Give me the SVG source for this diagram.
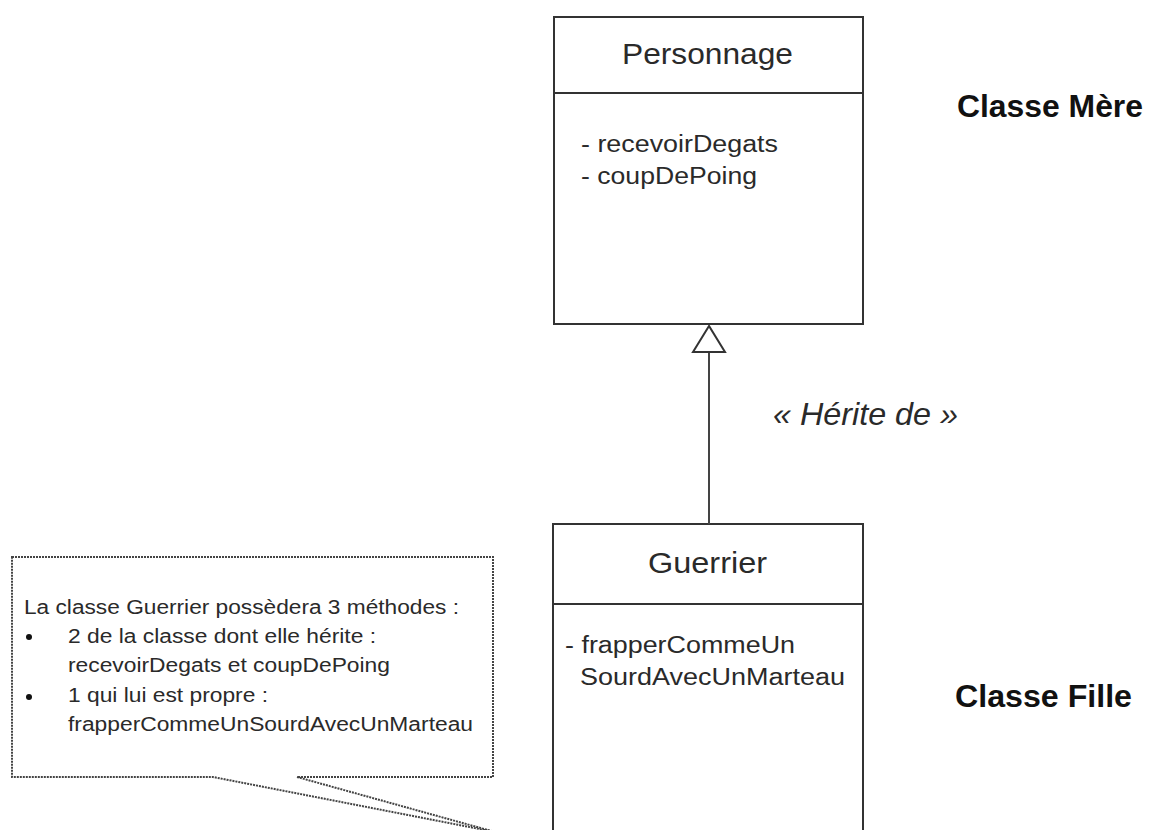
<svg xmlns="http://www.w3.org/2000/svg" width="1149" height="830" viewBox="0 0 1149 830">
<style>
.box{fill:#fff;stroke:#333;stroke-width:2}
.div{stroke:#333;stroke-width:2}
.t{font-family:"Liberation Sans",Arial,sans-serif;fill:#2a2a2a}
.title{font-size:30px}
.item{font-size:23px}
.note{font-size:20px}
.lbl{font-size:31px;font-weight:bold;fill:#111}
.it{font-size:32px;font-style:italic}
.callout{fill:#fff;stroke:#444;stroke-width:2;stroke-dasharray:2 1}
.conn{fill:none;stroke:#444;stroke-width:2}
</style>
<rect width="1149" height="830" fill="#fff"/>
<g id="personnage">
<rect class="box" x="554" y="17" width="309" height="307"/>
<line class="div" x1="554" y1="93" x2="863" y2="93"/>
<text class="t title" x="622" y="64" textLength="171" lengthAdjust="spacingAndGlyphs">Personnage</text>
<text class="t item" x="581" y="152" textLength="197" lengthAdjust="spacingAndGlyphs">- recevoirDegats</text>
<text class="t item" x="581" y="184" textLength="176" lengthAdjust="spacingAndGlyphs">- coupDePoing</text>
</g>
<g id="guerrier">
<rect class="box" x="553" y="524" width="310" height="330"/>
<line class="div" x1="553" y1="604" x2="863" y2="604"/>
<text class="t title" x="648" y="573" textLength="119" lengthAdjust="spacingAndGlyphs">Guerrier</text>
<text class="t item" x="565" y="653" textLength="230" lengthAdjust="spacingAndGlyphs">- frapperCommeUn</text>
<text class="t item" x="580" y="685" textLength="265" lengthAdjust="spacingAndGlyphs">SourdAvecUnMarteau</text>
</g>
<g id="connectors">
<line class="conn" x1="709" y1="524" x2="709" y2="352"/>
<polygon points="709,326 693,352 725,352" fill="#fff" stroke="#333" stroke-width="2"/>
</g>
<g id="label-heritage">
<text class="t it" x="773" y="425" textLength="185" lengthAdjust="spacingAndGlyphs">« Hérite de »</text>
</g>
<g id="label-mere">
<text class="t lbl" x="957" y="117" textLength="186" lengthAdjust="spacingAndGlyphs">Classe Mère</text>
</g>
<g id="label-fille">
<text class="t lbl" x="955" y="707" textLength="177" lengthAdjust="spacingAndGlyphs">Classe Fille</text>
</g>
<g id="note">
<path class="callout" d="M12,557 H493 V777 H297 L495,832 L213,777 H12 Z"/>
<text class="t note" x="24" y="614" textLength="435" lengthAdjust="spacingAndGlyphs">La classe Guerrier possèdera 3 méthodes :</text>
<circle cx="29" cy="637" r="3" fill="#111"/>
<text class="t note" x="68" y="643" textLength="308" lengthAdjust="spacingAndGlyphs">2 de la classe dont elle hérite :</text>
<text class="t note" x="68" y="672" textLength="322" lengthAdjust="spacingAndGlyphs">recevoirDegats et coupDePoing</text>
<circle cx="29" cy="697" r="3" fill="#111"/>
<text class="t note" x="68" y="702" textLength="200" lengthAdjust="spacingAndGlyphs">1 qui lui est propre :</text>
<text class="t note" x="68" y="731" textLength="405" lengthAdjust="spacingAndGlyphs">frapperCommeUnSourdAvecUnMarteau</text>
</g>
</svg>
